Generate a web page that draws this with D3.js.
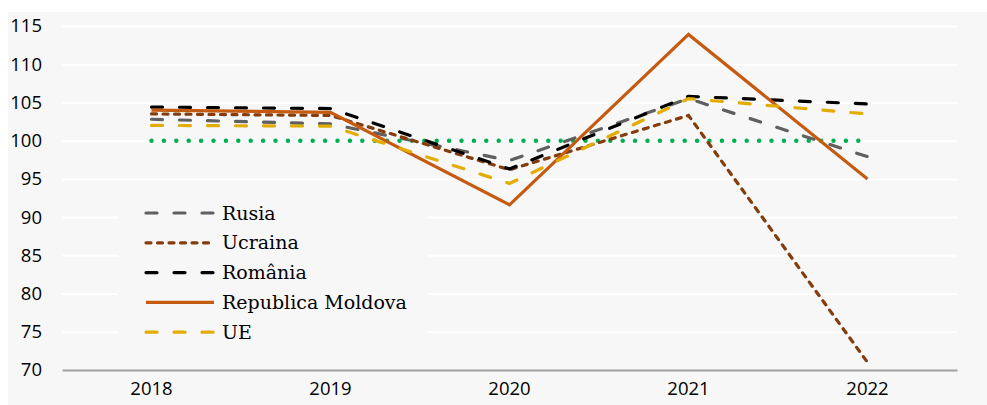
<!DOCTYPE html>
<html>
<head>
<meta charset="utf-8">
<script src="https://cdn.jsdelivr.net/npm/d3@7"></script>
<style>
  body { margin: 0; background: #fff; }
  svg { display: block; }
</style>
</head>
<body>
<svg id="chart" width="987" height="405"></svg>
<script>
const years = ["2018", "2019", "2020", "2021", "2022"];
const yTicks = [70, 75, 80, 85, 90, 95, 100, 105, 110, 115];

const rusia   = [102.8, 102.2, 97.4, 105.5, 97.9];
const ucraina = [103.5, 103.3, 96.2, 103.3, 71.0];
const romania = [104.4, 104.2, 96.3, 105.8, 104.8];
const moldova = [104.0, 103.7, 91.6, 113.9, 95.0];
const ue      = [102.0, 101.9, 94.4, 105.5, 103.5];
const baseline = [100, 100, 100, 100, 100];

const series = [
    { name: "Rusia", values: rusia, color: "#5f5f5f", dash: "11 17" },
    { name: "Ucraina", values: ucraina, color: "#843c0c", dash: "5 6.5" },
    { name: "România", values: romania, color: "#000000", dash: "11 17" },
    { name: "Republica Moldova", values: moldova, color: "#c55a11", dash: null },
    { name: "UE", values: ue, color: "#e2ac00", dash: "11 17" }
];

const svg = d3.select('#chart');
const margin = { top: 26, bottom: 35, right: 30, left: 62 };
const innerWidth = 957 - margin.left;
const innerHeight = 370 - margin.top;

// light grey panel
svg.append('rect')
    .attr('x', 8).attr('y', 12)
    .attr('width', 979).attr('height', 393)
    .attr('fill', '#f7f7f7');

const g = svg.append('g')
    .attr('transform', 'translate(' + margin.left + ',' + margin.top + ')');

const xScale = d3.scaleBand()
    .domain(years)
    .range([0, innerWidth]);
const yScale = d3.scaleLinear()
    .domain([70, 115])
    .range([innerHeight, 0]);

// gridlines
const yGrid = d3.axisLeft(yScale).tickValues(yTicks).tickSize(-innerWidth).tickFormat('');
const gGrid = g.append('g').call(yGrid);
gGrid.selectAll('.domain').remove();
gGrid.selectAll('.tick line').attr('stroke', '#ffffff').attr('stroke-width', 2);
gGrid.selectAll('.tick').filter(d => d === 70).remove();

// legend box hides the grid behind it
g.append('rect')
    .attr('x', 118 - margin.left).attr('y', 196 - margin.top)
    .attr('width', 310).attr('height', 152)
    .attr('fill', '#f7f7f7');

// y labels
const yAxis = d3.axisLeft(yScale).tickValues(yTicks).tickSize(0).tickPadding(20);
const gY = g.append('g').call(yAxis);
gY.selectAll('.domain').remove();
gY.selectAll('text')
    .style('font-family', '"Open Sans", sans-serif')
    .style('font-size', '18.5px')
    .attr('fill', '#000');

// x axis
const xAxis = d3.axisBottom(xScale).tickSize(0).tickPadding(12);
const gX = g.append('g')
    .attr('transform', `translate(0,${innerHeight})`)
    .call(xAxis);
gX.select('.domain').attr('stroke', '#a0a0a0').attr('stroke-width', 2);
gX.selectAll('text')
    .style('font-family', '"Open Sans", sans-serif')
    .style('font-size', '18.5px')
    .attr('fill', '#000');

const line = d3.line()
    .x((d, i) => xScale(years[i]) + xScale.bandwidth() / 2)
    .y(d => yScale(d));

// 100 reference line
g.append('path')
    .datum(baseline)
    .attr('d', line)
    .attr('fill', 'none')
    .attr('stroke', '#00b050')
    .attr('stroke-width', 4.5)
    .attr('stroke-linecap', 'round')
    .attr('stroke-dasharray', '0 12.4');

series.forEach(s => {
    g.append('path')
        .datum(s.values)
        .attr('d', line)
        .attr('fill', 'none')
        .attr('stroke', s.color)
        .attr('stroke-width', 3.2)
        .attr('stroke-linecap', s.dash ? 'round' : 'butt')
        .attr('stroke-dasharray', s.dash);
});

// legend
const legend = svg.append('g');
series.forEach((s, i) => {
    const y = 213 + i * 29.8;
    legend.append('line')
        .attr('x1', 146).attr('x2', 214)
        .attr('y1', y).attr('y2', y)
        .attr('stroke', s.color)
        .attr('stroke-width', 3.2)
        .attr('stroke-linecap', s.dash ? 'round' : 'butt')
        .attr('stroke-dasharray', s.dash);
    legend.append('text')
        .attr('x', 222)
        .attr('y', y)
        .attr('dy', '0.35em')
        .style('font-family', '"DejaVu Serif", serif')
        .style('font-size', '19px')
        .text(s.name);
});
</script>
</body>
</html>
